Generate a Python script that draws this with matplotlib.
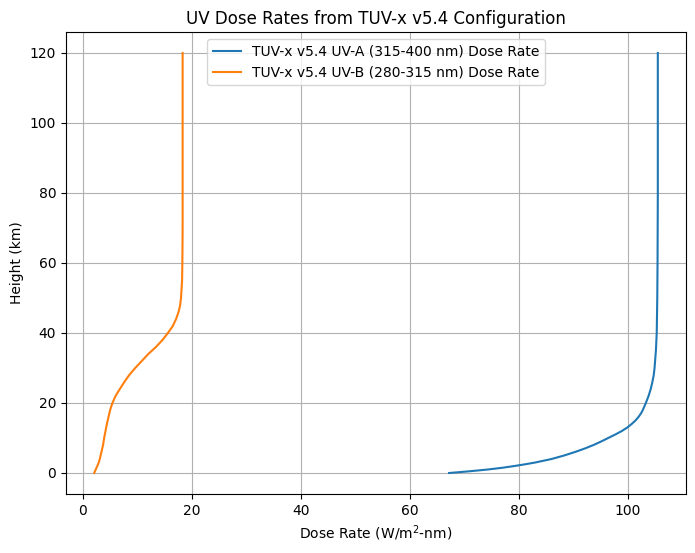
import matplotlib
matplotlib.use("Agg")
import matplotlib.pyplot as plt

# Heights (km) and dose rates
height_uva = [0, 0.5, 1, 1.5, 2, 2.5, 3, 4, 5, 6, 7, 8, 9, 10, 11, 12, 13, 14, 15, 16,
              17, 18, 20, 22, 24, 26, 28, 30, 35, 40, 50, 60, 80, 100, 120]
dose_uva = [67.2, 71.0, 74.3, 77.0, 79.2, 81.2, 83.0, 86.0, 88.3, 90.3, 92.1, 93.7,
            95.1, 96.4, 97.7, 98.9, 99.9, 100.7, 101.4, 101.95, 102.4, 102.75, 103.3,
            103.8, 104.2, 104.5, 104.75, 104.9, 105.15, 105.3, 105.4, 105.45, 105.5,
            105.5, 105.5]

height_uvb = [0, 1, 2, 3, 4, 5, 6, 8, 10, 12, 14, 16, 18, 19, 20, 21, 22, 23, 24, 26,
              28, 30, 32, 34, 36, 38, 40, 42, 44, 46, 48, 50, 55, 60, 70, 80, 100, 120]
dose_uvb = [2.07, 2.35, 2.65, 2.9, 3.1, 3.25, 3.4, 3.7, 3.9, 4.15, 4.4, 4.7, 5.0,
            5.2, 5.42, 5.7, 6.0, 6.38, 6.78, 7.6, 8.5, 9.6, 10.8, 12.0, 13.4, 14.6,
            15.6, 16.5, 17.1, 17.55, 17.85, 18.0, 18.2, 18.25, 18.3, 18.3, 18.3, 18.3]

plt.figure(figsize=(6.95, 5.53), dpi=100)
plt.subplots_adjust(left=66 / 695, right=686 / 695, top=1 - 32 / 553, bottom=1 - 494 / 553)
plt.plot(dose_uva, height_uva, label="TUV-x v5.4 UV-A (315-400 nm) Dose Rate")
plt.plot(dose_uvb, height_uvb, label="TUV-x v5.4 UV-B (280-315 nm) Dose Rate")

plt.title("UV Dose Rates from TUV-x v5.4 Configuration")
plt.xlabel("Dose Rate (W/m$^2$-nm)")
plt.ylabel("Height (km)")
plt.grid(True)
plt.legend(loc="upper center")
plt.savefig("out.png", dpi=100)
